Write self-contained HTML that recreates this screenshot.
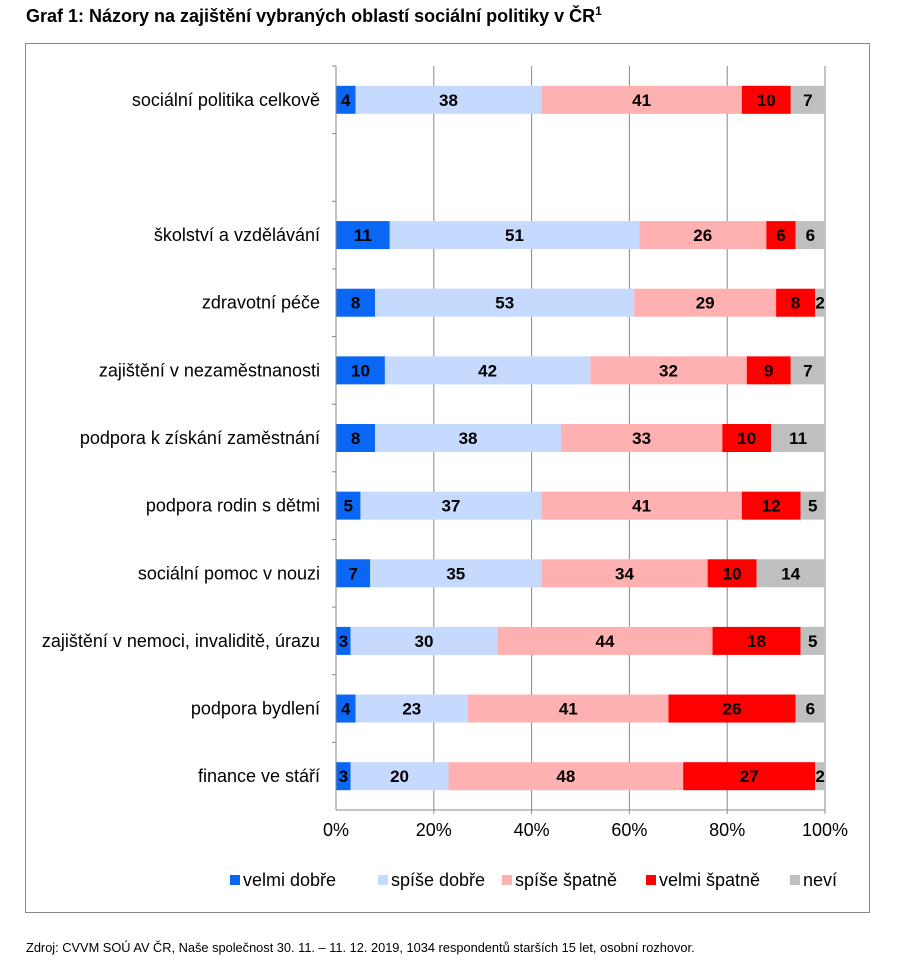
<!DOCTYPE html>
<html><head><meta charset="utf-8"><style>
body{margin:0;background:#fff;font-family:"Liberation Sans",Arial,sans-serif;}
#wrap{position:relative;width:902px;height:979px;}
</style></head><body>
<div id="wrap">
<div style="position:absolute;left:26px;top:4px;font-size:18px;font-weight:bold;white-space:nowrap;">Graf 1: Názory na zajištění vybraných oblastí sociální politiky v ČR<sup style="font-size:12px">1</sup></div>
<div style="position:absolute;left:25px;top:43px;width:843px;height:868px;border:1px solid #888;"></div>
<svg id="svg" width="902" height="979" style="position:absolute;left:0;top:0"></svg>
<div style="position:absolute;left:26px;top:940px;font-size:12.8px;white-space:nowrap;">Zdroj: CVVM SOÚ AV ČR, Naše společnost 30. 11. – 11. 12. 2019, 1034 respondentů starších 15 let, osobní rozhovor.</div>
</div>
<script>
const categories=["sociální politika celkově","","školství a vzdělávání","zdravotní péče","zajištění v nezaměstnanosti","podpora k získání zaměstnání","podpora rodin s dětmi","sociální pomoc v nouzi","zajištění v nemoci, invaliditě, úrazu","podpora bydlení","finance ve stáří"];
const velmiDobre=[4,null,11,8,10,8,5,7,3,4,3];
const spiseDobre=[38,null,51,53,42,38,37,35,30,23,20];
const spiseSpatne=[41,null,26,29,32,33,41,34,44,41,48];
const velmiSpatne=[10,null,6,8,9,10,12,10,18,26,27];
const nevi=[7,null,6,2,7,11,5,14,5,6,2];
const seriesNames=["velmi dobře","spíše dobře","spíše špatně","velmi špatně","neví"];
const tickLabels=["0%","20%","40%","60%","80%","100%"];
const tickValues=[0,20,40,60,80,100];
const colors=["#0a66f5","#c6daff","#ffb0b0","#ff0000","#bfbfbf"];
const series=[velmiDobre,spiseDobre,spiseSpatne,velmiSpatne,nevi];
const svg=document.getElementById('svg');const NS='http://www.w3.org/2000/svg';
const x0=336,x1=825,yTop=66,yBot=810;
const xs=v=>x0+(x1-x0)*v/100;
const rowH=(yBot-yTop)/categories.length;
const yc=i=>yTop+rowH*(i+0.5);
function mk(t,a){const e=document.createElementNS(NS,t);for(const k in a)e.setAttribute(k,a[k]);svg.appendChild(e);return e;}
tickValues.forEach((v,i)=>{
 if(v>0){const g=mk('line',{x1:xs(v),x2:xs(v),y1:yTop,y2:yBot+4,stroke:'#888','stroke-width':1});
 
 }
 const t=mk('text',{x:xs(v),y:yBot+26,'text-anchor':'middle','font-size':18,fill:'#000'});t.textContent=tickLabels[i];
 
 
});
categories.forEach((c,i)=>{
 const tk=mk('line',{x1:x0-4,x2:x0,y1:yTop+rowH*i,y2:yTop+rowH*i,stroke:'#888'});
 
 
 if(!c)return;
 const t=mk('text',{x:x0-16,y:yc(i)+6,'text-anchor':'end','font-size':18,fill:'#000'});t.textContent=c;
 
 
 let acc=0;
 series.forEach((s,k)=>{const v=s[i];if(v==null)return;
  const r=mk('rect',{x:xs(acc),y:yc(i)-14,width:xs(acc+v)-xs(acc),height:28,fill:colors[k]});
  
  
  const l=mk('text',{x:(xs(acc)+xs(acc+v))/2,y:yc(i)+6,'text-anchor':'middle','font-size':17,'font-weight':'bold',fill:'#000'});l.textContent=v;
  
  
  acc+=v;});
});
const ax=mk('line',{x1:x0,x2:x0,y1:yTop,y2:yBot,stroke:'#888'});
const bx=mk('line',{x1:x0,x2:x1,y1:yBot,y2:yBot,stroke:'#888'});
const lx=[230,378,502,646,790];
seriesNames.forEach((n,k)=>{
 const r=mk('rect',{x:lx[k],y:875,width:10,height:10,fill:colors[k]});
 
 
 const t=mk('text',{x:lx[k]+13,y:886,'font-size':18,fill:'#000'});t.textContent=n;
 
 
});
</script>
</body></html>
